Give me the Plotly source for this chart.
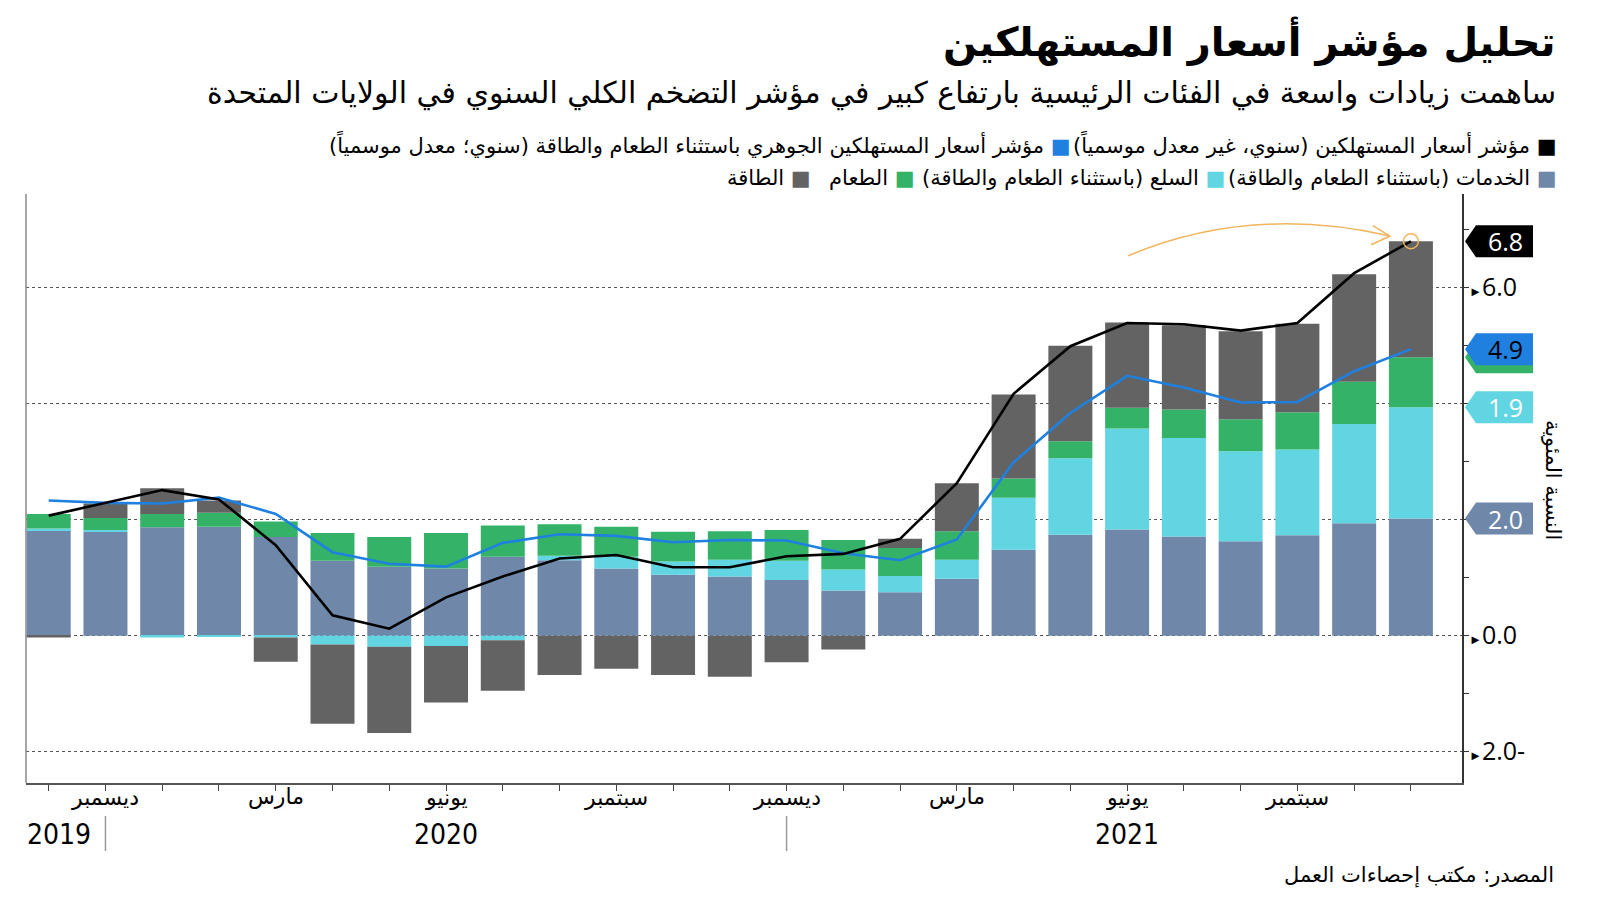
import plotly.graph_objects as go

# ---------------- data (Nov 2019 .. Nov 2021, monthly) ----------------
months = ["نوفمبر", "ديسمبر", "يناير", "فبراير", "مارس", "أبريل", "مايو", "يونيو",
          "يوليو", "أغسطس", "سبتمبر", "أكتوبر", "نوفمبر", "ديسمبر", "يناير", "فبراير",
          "مارس", "أبريل", "مايو", "يونيو", "يوليو", "أغسطس", "سبتمبر", "أكتوبر", "نوفمبر"]
labelled_months = [1, 4, 7, 10, 13, 16, 19, 22]

services = [1.82, 1.79, 1.87, 1.88, 1.70, 1.29, 1.19, 1.16, 1.36, 1.30, 1.16, 1.05, 1.02,
            0.96, 0.78, 0.75, 0.98, 1.48, 1.74, 1.83, 1.71, 1.63, 1.73, 1.94, 2.02]
goods = [0.03, 0.03, -0.03, -0.01, -0.03, -0.15, -0.19, -0.18, -0.08, 0.08, 0.20, 0.23, 0.29,
         0.33, 0.36, 0.28, 0.33, 0.90, 1.32, 1.74, 1.70, 1.55, 1.48, 1.71, 1.92]
food = [0.25, 0.21, 0.23, 0.24, 0.27, 0.48, 0.51, 0.61, 0.54, 0.54, 0.52, 0.51, 0.49,
        0.53, 0.51, 0.48, 0.49, 0.33, 0.29, 0.36, 0.49, 0.55, 0.64, 0.73, 0.86]
energy = [-0.03, 0.25, 0.44, 0.21, -0.42, -1.37, -1.49, -0.97, -0.87, -0.68, -0.57, -0.68, -0.71,
          -0.46, -0.24, 0.16, 0.83, 1.45, 1.65, 1.47, 1.45, 1.52, 1.53, 1.85, 2.00]
cpi = [2.07, 2.29, 2.51, 2.35, 1.56, 0.35, 0.12, 0.66, 1.02, 1.33, 1.39, 1.18, 1.18,
       1.37, 1.41, 1.67, 2.63, 4.17, 4.99, 5.39, 5.37, 5.26, 5.39, 6.25, 6.80]
core = [2.33, 2.29, 2.28, 2.38, 2.10, 1.44, 1.24, 1.19, 1.60, 1.75, 1.72, 1.61, 1.65,
        1.64, 1.42, 1.30, 1.66, 2.99, 3.84, 4.48, 4.28, 4.02, 4.03, 4.56, 4.94]

years = [("2019", 1, "right"), ("2020", 7, "center"), ("2021", 19, "center")]
year_separators = [1, 13]

ytick_vals = [-2, 0, 2, 4, 6]
ytick_text = ["2.0-", "0.0", "", "", "6.0"]

title = "تحليل مؤشر أسعار المستهلكين"
subtitle = "ساهمت زيادات واسعة في الفئات الرئيسية بارتفاع كبير في مؤشر التضخم الكلي السنوي في الولايات المتحدة"
source = "المصدر: مكتب إحصاءات العمل"
ytitle = "النسبة المئوية"

lbl_cpi = "مؤشر أسعار المستهلكين (سنوي، غير معدل موسمياً)"
lbl_core = "مؤشر أسعار المستهلكين الجوهري باستثناء الطعام والطاقة (سنوي؛ معدل موسمياً)"
lbl_services = "الخدمات (باستثناء الطعام والطاقة)"
lbl_goods = "السلع (باستثناء الطعام والطاقة)"
lbl_food = "الطعام"
lbl_energy = "الطاقة"

C_SERV = "#6F87A9"
C_GOODS = "#62D5E2"
C_FOOD = "#34B368"
C_ENERGY = "#636363"
C_CPI = "#000000"
C_CORE = "#1F80E0"
C_ORANGE = "#F2B45C"

AR = "DejaVu Sans"
NUM = "Open Sans"

# ---------------- geometry helpers (layout only) ----------------
W, H = 1600, 901
L, R, T, B = 26, 1462, 194, 783


def px(x):
    return (x - L) / (R - L)


def py(y):
    return (B - y) / (B - T)


n = len(services)
x = list(range(n))

fig = go.Figure()
for vals, col, name in [(services, C_SERV, lbl_services), (goods, C_GOODS, lbl_goods),
                        (food, C_FOOD, lbl_food), (energy, C_ENERGY, lbl_energy)]:
    fig.add_bar(x=x, y=vals, marker=dict(color=col, line=dict(width=0)), name=name,
                showlegend=False, hoverinfo="skip")

fig.add_scatter(x=x, y=core, mode="lines", line=dict(color=C_CORE, width=2.6),
                showlegend=False, hoverinfo="skip")
fig.add_scatter(x=x, y=cpi, mode="lines", line=dict(color=C_CPI, width=2.6),
                showlegend=False, hoverinfo="skip")
fig.add_scatter(x=[x[-1]], y=[cpi[-1]], mode="markers",
                marker=dict(symbol="circle-open", size=15, color=C_ORANGE,
                            line=dict(color=C_ORANGE, width=1.5)),
                showlegend=False, hoverinfo="skip", cliponaxis=False)

shapes = []
annotations = []

# left frame line
shapes.append(dict(type="line", xref="paper", yref="paper", x0=0, x1=0, y0=0, y1=1,
                   line=dict(color="#8a8a8a", width=1.5), layer="above"))

# curved arrow towards last CPI point
lx, ly = x[-1], cpi[-1]
x0, y0 = lx - 4.98, ly - 0.25
x1, y1 = lx - 0.37, ly + 0.09
cx, cy = lx - 2.83, ly + 0.64
shapes.append(dict(type="path", xref="x", yref="y",
                   path=f"M {x0},{y0} Q {cx},{cy} {x1},{y1}",
                   line=dict(color=C_ORANGE, width=1.5), layer="above"))
shapes.append(dict(type="path", xref="x", yref="y",
                   path=f"M {x1-0.3},{y1+0.18} L {x1},{y1} L {x1-0.33},{y1-0.15}",
                   line=dict(color=C_ORANGE, width=1.5), layer="above"))

# value tags on the right
tag_h = 0.276
tip, knee, end = 1 + 3 / (R - L), 1 + 14 / (R - L), 1 + 71 / (R - L)
tags = [
    (services[-1], C_SERV, f"{services[-1]:.1f}", "white"),
    (services[-1] + goods[-1], C_GOODS, f"{goods[-1]:.1f}", "white"),
    (services[-1] + goods[-1] + food[-1], C_FOOD, None, "white"),
    (core[-1], C_CORE, f"{core[-1]:.1f}", "black"),
    (cpi[-1], C_CPI, f"{cpi[-1]:.1f}", "white"),
]
for v, col, txt, tcol in tags:
    shapes.append(dict(type="path", xref="paper", yref="y",
                       path=(f"M {tip},{v} L {knee},{v+tag_h} L {end},{v+tag_h} "
                             f"L {end},{v-tag_h} L {knee},{v-tag_h} Z"),
                       fillcolor=col, line=dict(width=0), layer="above"))
    if txt:
        annotations.append(dict(xref="paper", yref="y", x=(knee + end) / 2 + 0.001, y=v,
                                text=txt, showarrow=False, xanchor="center", yanchor="middle",
                                font=dict(family=NUM, size=25, color=tcol)))

# title / subtitle
annotations.append(dict(xref="paper", yref="paper", x=px(1558), y=py(41), text=f"<b>{title}</b>",
                        showarrow=False, xanchor="right", yanchor="middle",
                        font=dict(family=AR, size=40, color="black")))
annotations.append(dict(xref="paper", yref="paper", x=px(1558), y=py(93), text=subtitle,
                        showarrow=False, xanchor="right", yanchor="middle",
                        font=dict(family=AR, size=30, color="black")))

# custom legend
legend_items = [
    (lbl_cpi, C_CPI, 1558, 144),
    (lbl_core, C_CORE, 1073, 144),
    (lbl_services, C_SERV, 1559, 178),
    (lbl_goods, C_GOODS, 1227, 178),
    (lbl_food, C_FOOD, 917, 178),
    (lbl_energy, C_ENERGY, 813, 178),
]
for lbl, col, xr, yy in legend_items:
    annotations.append(dict(xref="paper", yref="paper", x=px(xr), y=py(yy),
                            text=f"{lbl} <span style='color:{col}'>■</span>",
                            showarrow=False, xanchor="right", yanchor="middle",
                            font=dict(family=AR, size=21, color="black")))

# month labels under the axis
for i in labelled_months:
    annotations.append(dict(xref="x", yref="paper", x=i, y=py(797), text=months[i],
                            showarrow=False, xanchor="center", yanchor="middle",
                            font=dict(family=AR, size=22, color="black")))

# years and separators
for yr, idx, anchor in years:
    annotations.append(dict(xref="x", yref="paper", x=idx, y=py(834), text=yr, showarrow=False,
                            xanchor=anchor, yanchor="middle", xshift=-12 if anchor == "right" else 0,
                            font=dict(family="Liberation Sans Narrow, DejaVu Sans Condensed, sans-serif",
                                      size=28, color="black")))
for idx in year_separators:
    shapes.append(dict(type="line", xref="x", yref="paper", x0=idx, x1=idx,
                       y0=py(816), y1=py(851), line=dict(color="#999999", width=1.5)))

# y-axis title (rotated) and source
annotations.append(dict(xref="paper", yref="paper", x=px(1553), y=py(480), text=ytitle,
                        textangle=90, showarrow=False, xanchor="center", yanchor="middle",
                        font=dict(family=AR, size=21, color="black")))
annotations.append(dict(xref="paper", yref="paper", x=px(1556), y=py(875), text=source,
                        showarrow=False, xanchor="right", yanchor="middle",
                        font=dict(family=AR, size=21, color="black")))

arrow = "<span style='font-size:13px'>►</span>"
fig.update_layout(
    width=W, height=H, margin=dict(l=L, r=W - R, t=T, b=H - B),
    paper_bgcolor="white", plot_bgcolor="white",
    barmode="relative", bargap=0.225,
    shapes=shapes, annotations=annotations,
    xaxis=dict(range=[-0.40, 24.9], tickmode="array", tickvals=x, showticklabels=False,
               ticks="outside", ticklen=6, tickcolor="#444", tickwidth=1.2,
               showline=True, linecolor="#555", linewidth=1.5, showgrid=False, zeroline=False),
    yaxis=dict(range=[-2.54, 7.615], side="right", tickmode="array", tickvals=ytick_vals,
               ticktext=[(arrow + t) if t else "" for t in ytick_text],
               ticks="", showline=True, linecolor="#333", linewidth=2,
               showgrid=True, gridcolor="#555", griddash="dot", gridwidth=1, zeroline=False,
               minor=dict(dtick=1, tick0=1, ticks="outside", ticklen=5, tickcolor="#333", showgrid=False),
               tickfont=dict(family=NUM, size=25, color="black")),
)

fig.write_html("out.html", config={"displayModeBar": False},
               post_script="document.body.style.margin='0';document.body.style.padding='0';")
